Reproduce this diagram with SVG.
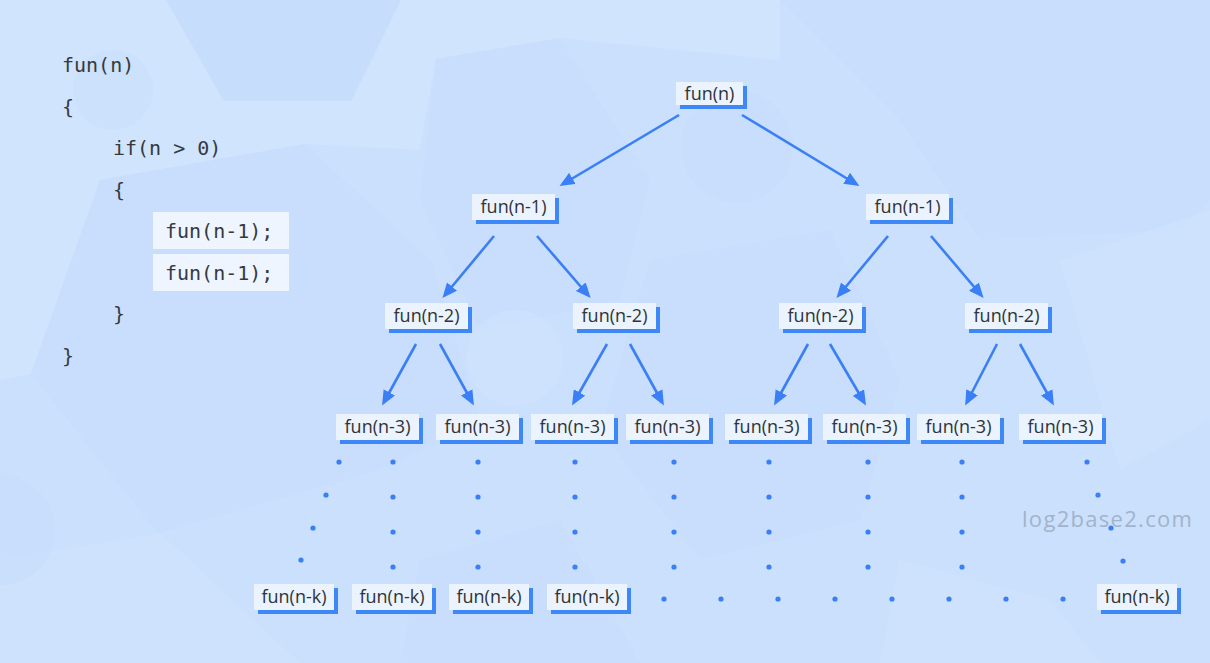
<svg xmlns="http://www.w3.org/2000/svg" width="1210" height="663" viewBox="0 0 1210 663">
<style>
.code{font-family:"DejaVu Sans Mono",monospace;font-size:20px;fill:#353a40}
.lbl{font-family:"Open Sans","Noto Sans",sans-serif;font-size:18px;fill:#2f3338;text-anchor:middle}
.box{fill:#eaf3fe}
.sh{fill:#3d87f6}
.hl{fill:#eef5fe}
.arr{stroke:#3a7ff5;stroke-width:2.6;fill:none;marker-end:url(#ah)}
.dot{fill:#3a7ff5}
.bgd{fill:#c5dbfb}
.bgl{fill:#d3e6fe}
</style>
<defs>
<marker id="ah" markerUnits="userSpaceOnUse" markerWidth="15" markerHeight="13" refX="11" refY="6.5" orient="auto">
<path d="M0,0 L15,6.5 L0,13 Z" fill="#3a7ff5"/>
</marker>
</defs>
<g id="background">
<rect width="1210" height="663" fill="#cbe0fd"/>
<polygon class="bgl" points="0,0 166,0 224,101 351,101 401,0 780,0 780,60 560,38 436,59 420,150 305,144 100,180 31,374 0,380" opacity="0.6"/>
<polygon class="bgd" points="166,0 401,0 351,101 224,101" opacity="0.6"/>
<polygon class="bgd" points="100,180 305,144 432,262 480,420 380,470 158,533 31,374" opacity="0.35"/>
<polygon class="bgd" points="436,59 559,38 650,180 620,300 480,330 420,200" opacity="0.4"/>
<polygon class="bgd" points="780,0 1210,0 1210,200 1180,230 980,240 900,120" opacity="0.4"/>
<polygon class="bgl" points="1060,260 1210,210 1210,420 1120,470" opacity="0.4"/>
<polygon class="bgd" points="650,260 830,230 900,380 860,520 700,560 600,430" opacity="0.3"/>
<polygon class="bgl" points="0,560 160,533 300,663 0,663" opacity="0.4"/>
<polygon class="bgd" points="420,560 560,520 640,663 400,663" opacity="0.3"/>
<polygon class="bgl" points="900,560 1050,600 1100,663 880,663" opacity="0.4"/>
<circle cx="113" cy="90" r="40" class="bgd" opacity="0.4"/>
<circle cx="737" cy="147" r="56" class="bgd" opacity="0.4"/>
<circle cx="515" cy="358" r="48" class="bgl" opacity="0.4"/>
<circle cx="0" cy="530" r="55" class="bgd" opacity="0.4"/>
</g>
<g id="code">
<rect class="hl" x="153" y="212" width="136" height="37"/>
<rect class="hl" x="153" y="254" width="136" height="37"/>
<text class="code" x="62" y="72">fun(n)</text>
<text class="code" x="62" y="113.5">{</text>
<text class="code" x="113" y="155">if(n &gt; 0)</text>
<text class="code" x="113" y="196.5">{</text>
<text class="code" x="165" y="238">fun(n-1);</text>
<text class="code" x="165" y="279.5">fun(n-1);</text>
<text class="code" x="113" y="321">}</text>
<text class="code" x="62" y="362.5">}</text>
</g>
<g id="connectors">
<line class="arr" x1="679" y1="115" x2="563" y2="184"/>
<line class="arr" x1="742" y1="115" x2="856" y2="184"/>
<line class="arr" x1="494" y1="236" x2="445" y2="295"/>
<line class="arr" x1="537" y1="236" x2="588" y2="295"/>
<line class="arr" x1="888" y1="236" x2="839" y2="295"/>
<line class="arr" x1="931" y1="236" x2="981" y2="295"/>
<line class="arr" x1="416" y1="344" x2="384" y2="402"/>
<line class="arr" x1="440" y1="344" x2="472" y2="402"/>
<line class="arr" x1="607" y1="344" x2="574" y2="402"/>
<line class="arr" x1="630" y1="344" x2="662" y2="402"/>
<line class="arr" x1="808" y1="344" x2="776" y2="402"/>
<line class="arr" x1="830" y1="344" x2="864" y2="402"/>
<line class="arr" x1="997" y1="344" x2="967" y2="402"/>
<line class="arr" x1="1020" y1="344" x2="1052" y2="402"/>
</g>
<g id="dots">
<circle class="dot" cx="339" cy="462" r="2.6"/><circle class="dot" cx="326" cy="495" r="2.6"/><circle class="dot" cx="313" cy="528" r="2.6"/><circle class="dot" cx="301" cy="560" r="2.6"/>
<circle class="dot" cx="393" cy="462" r="2.6"/><circle class="dot" cx="393" cy="497" r="2.6"/><circle class="dot" cx="393" cy="532" r="2.6"/><circle class="dot" cx="393" cy="567" r="2.6"/>
<circle class="dot" cx="478" cy="462" r="2.6"/><circle class="dot" cx="478" cy="497" r="2.6"/><circle class="dot" cx="478" cy="532" r="2.6"/><circle class="dot" cx="478" cy="567" r="2.6"/>
<circle class="dot" cx="575" cy="462" r="2.6"/><circle class="dot" cx="575" cy="497" r="2.6"/><circle class="dot" cx="575" cy="532" r="2.6"/><circle class="dot" cx="575" cy="567" r="2.6"/>
<circle class="dot" cx="674" cy="462" r="2.6"/><circle class="dot" cx="674" cy="497" r="2.6"/><circle class="dot" cx="674" cy="532" r="2.6"/><circle class="dot" cx="674" cy="567" r="2.6"/>
<circle class="dot" cx="769" cy="462" r="2.6"/><circle class="dot" cx="769" cy="497" r="2.6"/><circle class="dot" cx="769" cy="532" r="2.6"/><circle class="dot" cx="769" cy="567" r="2.6"/>
<circle class="dot" cx="868" cy="462" r="2.6"/><circle class="dot" cx="868" cy="497" r="2.6"/><circle class="dot" cx="868" cy="532" r="2.6"/><circle class="dot" cx="868" cy="567" r="2.6"/>
<circle class="dot" cx="962" cy="462" r="2.6"/><circle class="dot" cx="962" cy="497" r="2.6"/><circle class="dot" cx="962" cy="532" r="2.6"/><circle class="dot" cx="962" cy="567" r="2.6"/>
<circle class="dot" cx="1087" cy="462" r="2.6"/><circle class="dot" cx="1098" cy="495" r="2.6"/><circle class="dot" cx="1111" cy="528" r="2.6"/><circle class="dot" cx="1123" cy="561" r="2.6"/>
<circle class="dot" cx="664" cy="599" r="2.6"/><circle class="dot" cx="721" cy="599" r="2.6"/><circle class="dot" cx="778" cy="599" r="2.6"/><circle class="dot" cx="835" cy="599" r="2.6"/><circle class="dot" cx="892" cy="599" r="2.6"/><circle class="dot" cx="949" cy="599" r="2.6"/><circle class="dot" cx="1006" cy="599" r="2.6"/><circle class="dot" cx="1063" cy="599" r="2.6"/>
</g>
<g id="n0"><rect class="sh" x="680" y="86" width="67" height="23"/><rect class="box" x="676" y="82" width="67" height="23"/><text class="lbl" x="709.5" y="100">fun(n)</text></g>
<g id="n1a"><rect class="sh" x="476" y="198" width="83" height="26"/><rect class="box" x="472" y="194" width="83" height="26"/><text class="lbl" x="513.5" y="213">fun(n-1)</text></g>
<g id="n1b"><rect class="sh" x="870" y="198" width="83" height="26"/><rect class="box" x="866" y="194" width="83" height="26"/><text class="lbl" x="907.5" y="213">fun(n-1)</text></g>
<g id="n2a"><rect class="sh" x="389" y="307" width="83" height="26"/><rect class="box" x="385" y="303" width="83" height="26"/><text class="lbl" x="426.5" y="322">fun(n-2)</text></g>
<g id="n2b"><rect class="sh" x="577" y="307" width="83" height="26"/><rect class="box" x="573" y="303" width="83" height="26"/><text class="lbl" x="614.5" y="322">fun(n-2)</text></g>
<g id="n2c"><rect class="sh" x="783" y="307" width="83" height="26"/><rect class="box" x="779" y="303" width="83" height="26"/><text class="lbl" x="820.5" y="322">fun(n-2)</text></g>
<g id="n2d"><rect class="sh" x="969" y="307" width="83" height="26"/><rect class="box" x="965" y="303" width="83" height="26"/><text class="lbl" x="1006.5" y="322">fun(n-2)</text></g>
<g id="n3a"><rect class="sh" x="340" y="418" width="83" height="26"/><rect class="box" x="336" y="414" width="83" height="26"/><text class="lbl" x="377.5" y="433">fun(n-3)</text></g>
<g id="n3b"><rect class="sh" x="440" y="418" width="83" height="26"/><rect class="box" x="436" y="414" width="83" height="26"/><text class="lbl" x="477.5" y="433">fun(n-3)</text></g>
<g id="n3c"><rect class="sh" x="535" y="418" width="83" height="26"/><rect class="box" x="531" y="414" width="83" height="26"/><text class="lbl" x="572.5" y="433">fun(n-3)</text></g>
<g id="n3d"><rect class="sh" x="630" y="418" width="83" height="26"/><rect class="box" x="626" y="414" width="83" height="26"/><text class="lbl" x="667.5" y="433">fun(n-3)</text></g>
<g id="n3e"><rect class="sh" x="729" y="418" width="83" height="26"/><rect class="box" x="725" y="414" width="83" height="26"/><text class="lbl" x="766.5" y="433">fun(n-3)</text></g>
<g id="n3f"><rect class="sh" x="827" y="418" width="83" height="26"/><rect class="box" x="823" y="414" width="83" height="26"/><text class="lbl" x="864.5" y="433">fun(n-3)</text></g>
<g id="n3g"><rect class="sh" x="921" y="418" width="83" height="26"/><rect class="box" x="917" y="414" width="83" height="26"/><text class="lbl" x="958.5" y="433">fun(n-3)</text></g>
<g id="n3h"><rect class="sh" x="1023" y="418" width="83" height="26"/><rect class="box" x="1019" y="414" width="83" height="26"/><text class="lbl" x="1060.5" y="433">fun(n-3)</text></g>
<g id="nka"><rect class="sh" x="258" y="588" width="80" height="26"/><rect class="box" x="254" y="584" width="80" height="26"/><text class="lbl" x="294" y="603">fun(n-k)</text></g>
<g id="nkb"><rect class="sh" x="356" y="588" width="80" height="26"/><rect class="box" x="352" y="584" width="80" height="26"/><text class="lbl" x="392" y="603">fun(n-k)</text></g>
<g id="nkc"><rect class="sh" x="453" y="588" width="80" height="26"/><rect class="box" x="449" y="584" width="80" height="26"/><text class="lbl" x="489" y="603">fun(n-k)</text></g>
<g id="nkd"><rect class="sh" x="551" y="588" width="80" height="26"/><rect class="box" x="547" y="584" width="80" height="26"/><text class="lbl" x="587" y="603">fun(n-k)</text></g>
<g id="nke"><rect class="sh" x="1101" y="588" width="80" height="26"/><rect class="box" x="1097" y="584" width="80" height="26"/><text class="lbl" x="1137" y="603">fun(n-k)</text></g>
<text x="1022" y="527" font-family="Open Sans, sans-serif" font-size="22" letter-spacing="1.3" fill="#a2b3ca">log2base2.com</text>
</svg>
